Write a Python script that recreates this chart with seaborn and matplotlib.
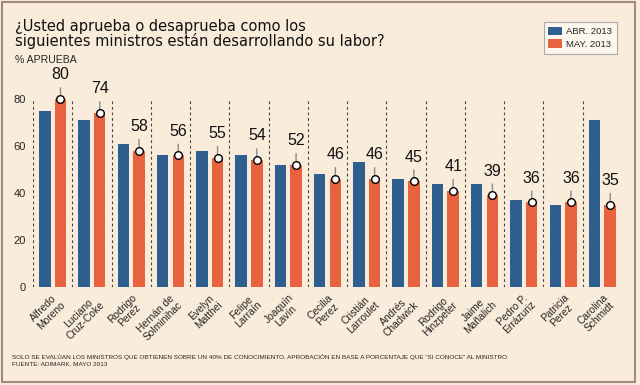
import numpy as np
import pandas as pd
import seaborn as sns
import matplotlib.pyplot as plt
from matplotlib.patches import Rectangle

nombres = [
    'Alfredo\nMoreno',
    'Luciano\nCruz-Coke',
    'Rodrigo\nPerez',
    'Hernán de\nSolminihac',
    'Evelyn\nMatthei',
    'Felipe\nLarraín',
    'Joaquín\nLavín',
    'Cecilia\nPerez',
    'Cristián\nLarroulet',
    'Andrés\nChadwick',
    'Rodrigo\nHinzpeter',
    'Jaime\nMañalich',
    'Pedro P.\nErrázuriz',
    'Patricia\nPerez',
    'Carolina\nSchmidt'
]
abr_2013 = [75, 71, 61, 56, 58, 56, 52, 48, 53, 46, 44, 44, 37, 35, 71]
may_2013 = [80, 74, 58, 56, 55, 54, 52, 46, 46, 45, 41, 39, 36, 36, 35]
periodos = ['ABR. 2013', 'MAY. 2013']
y_ticks = [0, 20, 40, 60, 80]

fondo = '#faecda'
azul = '#2e5f8e'
naranja = '#e8623f'
narrow = ['Liberation Sans', 'DejaVu Sans']

df = pd.DataFrame({
    'Ministro': nombres * 2,
    'Periodo': [periodos[0]] * len(nombres) + [periodos[1]] * len(nombres),
    'Aprueba': abr_2013 + may_2013,
})

sns.set_style('white')
plt.rcParams['font.family'] = ['DejaVu Sans']

fig = plt.figure(figsize=(6.4, 3.85), dpi=100, facecolor=fondo)
ax = fig.add_axes([33/640, 1-287/385, (622-33)/640, (287-99)/385])
ax.set_facecolor(fondo)

sns.barplot(ax=ax, data=df, x='Ministro', y='Aprueba', hue='Periodo',
            hue_order=periodos, palette=[azul, naranja], width=0.8, gap=0.27,
            saturation=1, edgecolor='none', errorbar=None)

ax.set_xlim(-0.5, len(nombres) - 0.5)
ax.set_ylim(0, 80)
for k in range(len(nombres) + 1):
    ax.axvline(k - 0.5, color='#444444', lw=0.8, ls=(0, (2.5, 2.5)), zorder=0)

# marcadores y etiquetas de mayo
xs = np.arange(len(nombres)) + 0.2
for x, v in zip(xs, may_2013):
    ax.annotate(str(v), xy=(x, v), xytext=(0, 12), textcoords='offset points',
                ha='center', va='bottom', fontsize=11.5, family=narrow,
                color='#111111', annotation_clip=False,
                arrowprops=dict(arrowstyle='-', color='#8a8a8a', lw=1,
                                shrinkA=1.5, shrinkB=0))
ax.plot(xs, may_2013, 'o', ms=5.5, mfc='white', mec='black', mew=1,
        ls='none', clip_on=False, zorder=5)

ax.set_yticks(y_ticks)
ax.set_yticklabels([str(t) for t in y_ticks], fontsize=8, family=narrow)
ax.tick_params(axis='y', length=0, pad=5)
ax.tick_params(axis='x', length=0, pad=4)
ax.set_xticks(range(len(nombres)))
ax.set_xticklabels(nombres, rotation=45, ha='right', rotation_mode='anchor',
                   fontsize=7.4, family=narrow, multialignment='center', linespacing=1.0)
ax.set_xlabel('')
ax.set_ylabel('')
for s in ax.spines.values():
    s.set_visible(False)

handles, labels = ax.get_legend_handles_labels()
ax.get_legend().remove()
leg = fig.legend(handles, labels, loc='upper right', bbox_to_anchor=(617/640, 1-22/385),
                 borderaxespad=0, prop={'family': narrow, 'size': 6.8},
                 frameon=True, fancybox=False, handlelength=1.4,
                 handleheight=1.0, borderpad=0.5, labelspacing=0.35, handletextpad=0.5)
leg.get_frame().set_facecolor('#fdf9f3')
leg.get_frame().set_edgecolor('#999999')
leg.get_frame().set_linewidth(0.8)

fig.text(15/640, 1-46/385,
         '¿Usted aprueba o desaprueba como los\nsiguientes ministros están desarrollando su labor?',
         fontsize=10.5, va='baseline', linespacing=0.95, color='#111111')
fig.text(15/640, 1-63/385, '% APRUEBA', fontsize=7.6, family=narrow, va='baseline')
fig.text(12/640, 1-365/385,
         'SOLO SE EVALÚAN LOS MINISTROS QUE OBTIENEN SOBRE UN 40% DE CONOCIMIENTO. '
         'APROBACIÓN EN BASE A PORCENTAJE QUE "SI CONOCE" AL MINISTRO\nFUENTE: ADIMARK, MAYO 2013',
         fontsize=4.6, family=narrow, va='baseline', linespacing=1.25)

fig.patches.append(Rectangle((2/640, 3/385), 633/640, 380/385, transform=fig.transFigure,
                             fill=False, edgecolor='#a08a7c', lw=1.5))

fig.savefig('out.png', dpi=100, facecolor=fondo)
